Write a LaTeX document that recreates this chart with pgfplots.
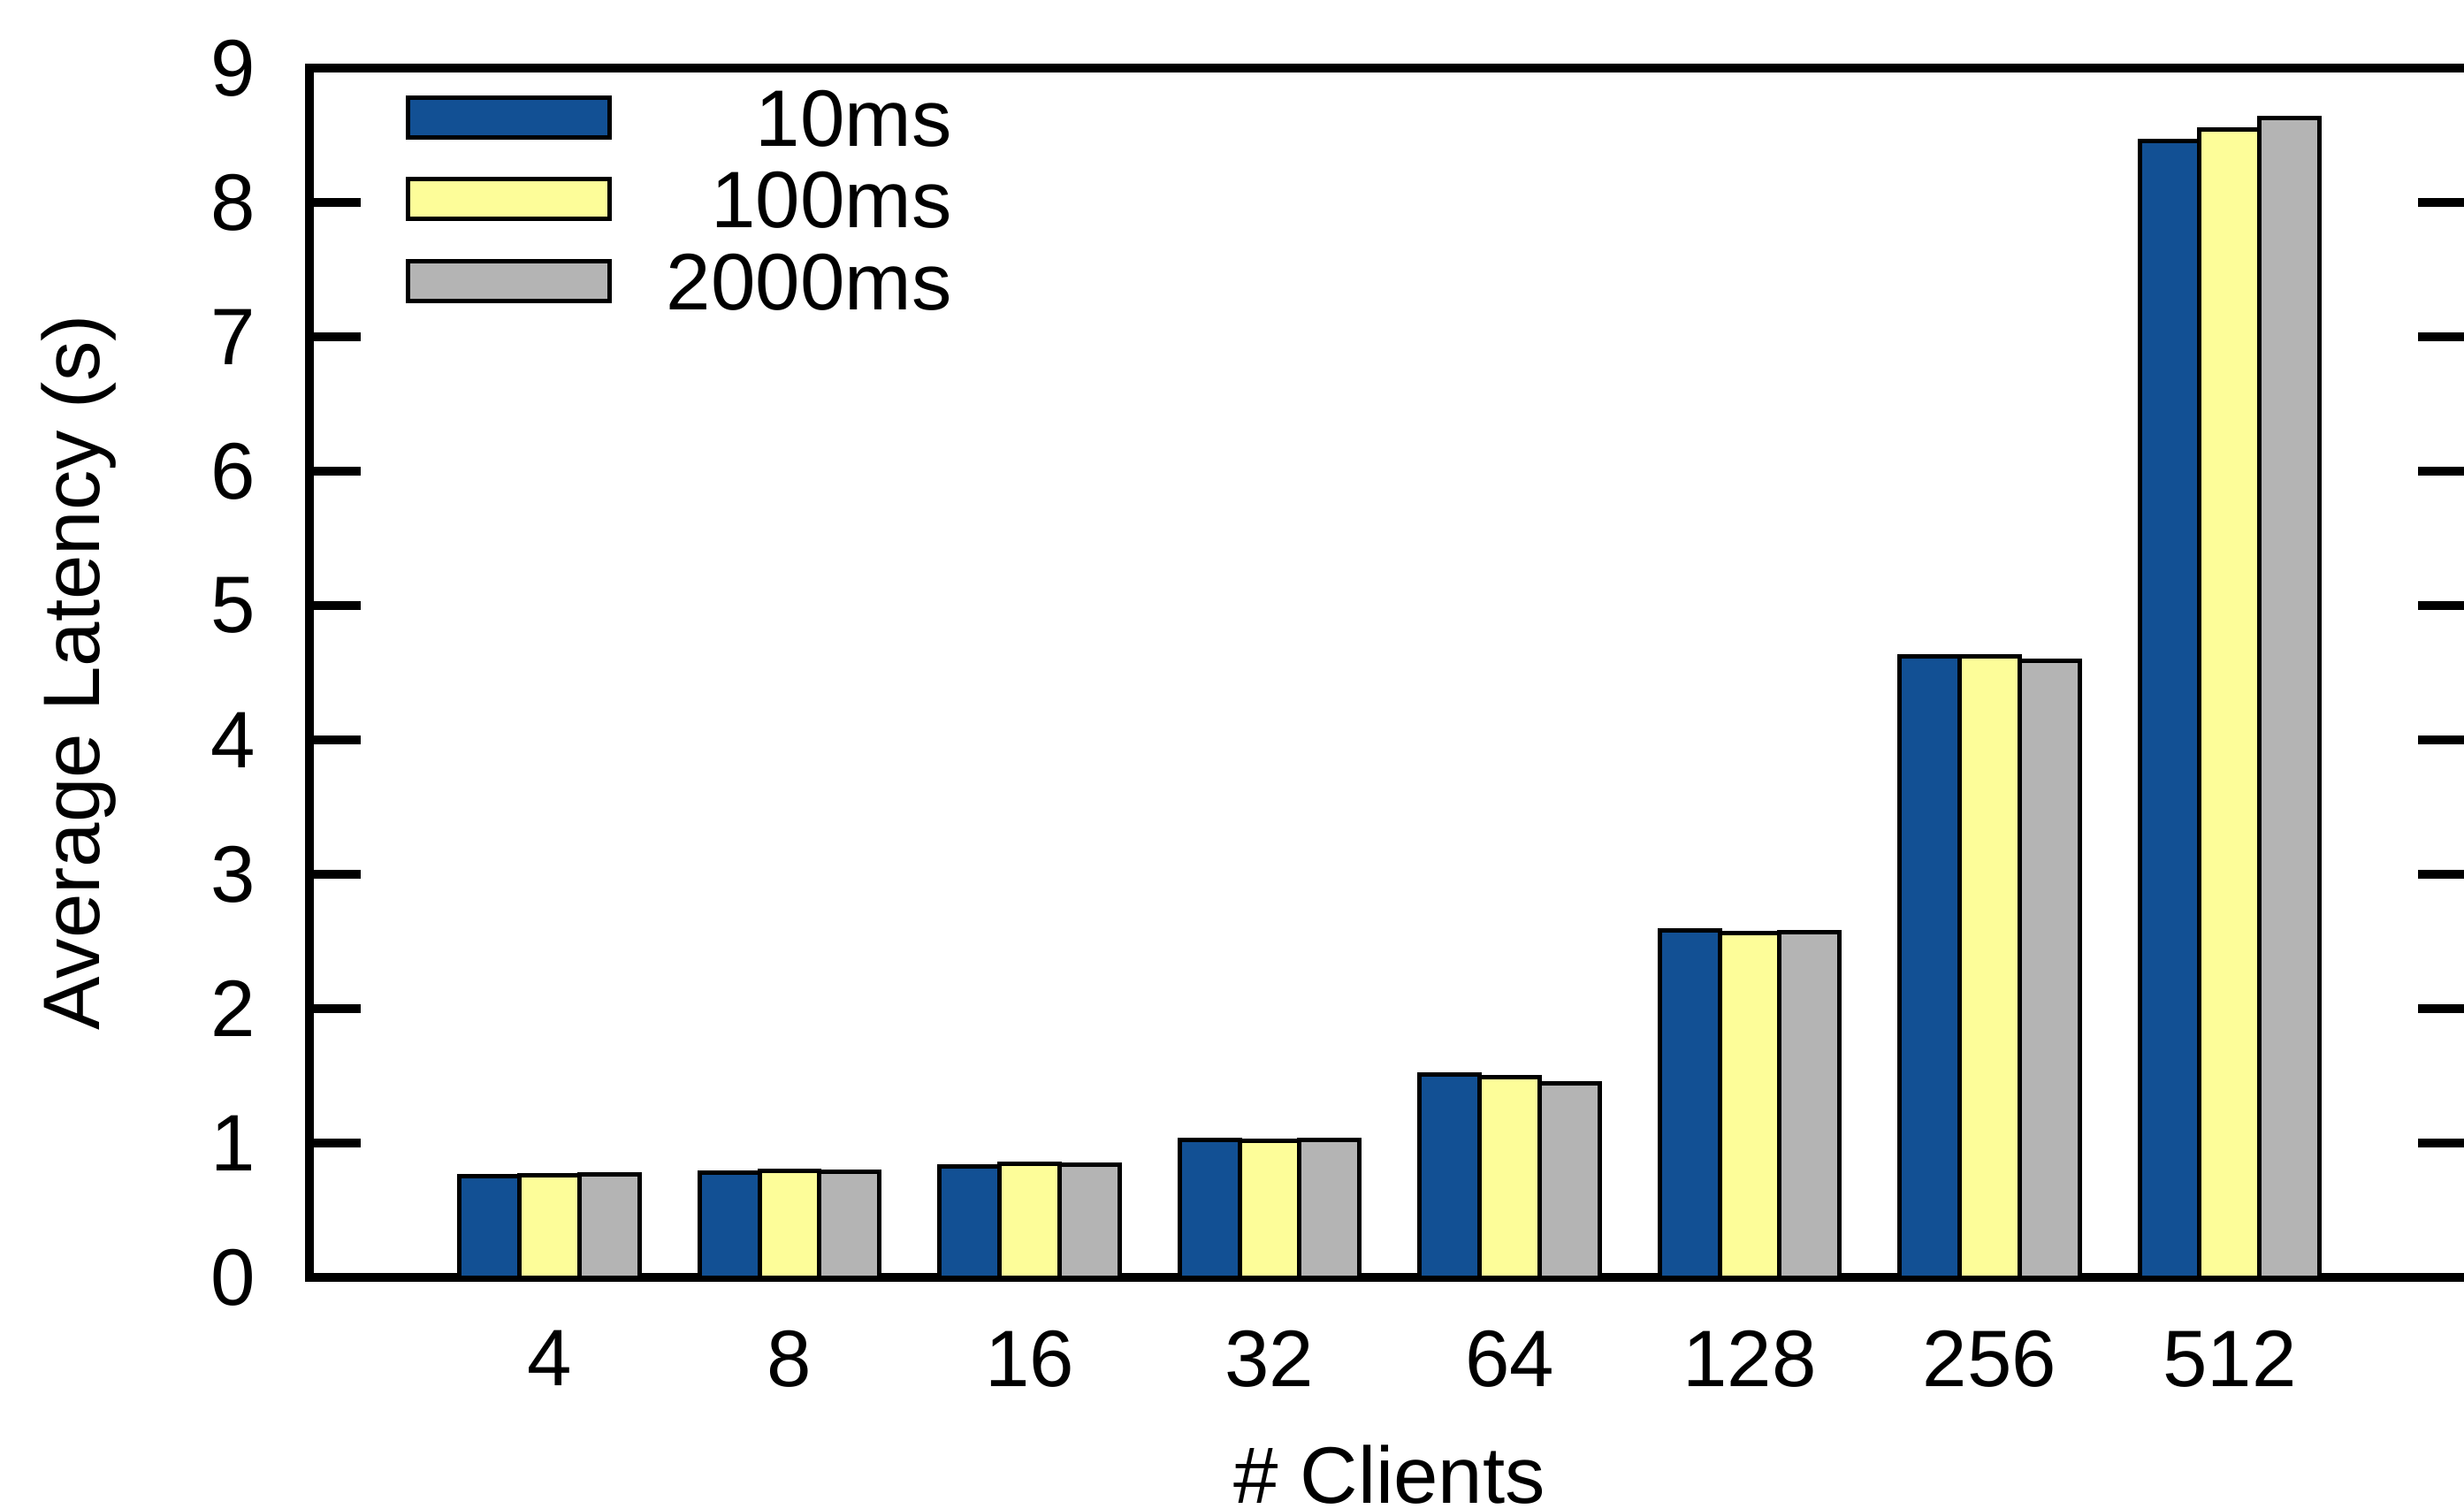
\documentclass[border=0pt]{standalone}
\usepackage{pgfplots}
\pgfplotsset{compat=1.18}
\usepackage{fontspec}
\setmainfont{Liberation Sans}
\definecolor{cblue}{RGB}{18,80,148}
\definecolor{cyellow}{RGB}{253,253,153}
\definecolor{cgray}{RGB}{180,180,180}
\begin{document}
\begin{tikzpicture}[font=\fontsize{9.1}{11}\selectfont]
\begin{scope}
\clip (-35bp,-26.2bp) rectangle (243.7bp,144.5bp);
\begin{axis}[
  at={(0,0)}, anchor=south west,
  scale only axis,
  width=244.35bp, height=136.8bp,
  xmin=-1, xmax=8, ymin=0, ymax=9,
  ybar=0pt, bar width=0.25,
  xtick={0,1,2,3,4,5,6,7},
  xticklabels={4,8,16,32,64,128,256,512},
  ytick={0,1,2,3,4,5,6,7,8,9},
  ytick pos=both,
  xtick style={draw=none},
  ytick style={line width=1bp, black},
  major tick length=5.8bp,
  tick align=inside,
  axis line style={line width=1.05bp},
  /pgf/number format/assume math mode=true,
  yticklabel style={inner sep=0pt, xshift=-5.9bp},
  xticklabel style={inner sep=0pt, yshift=-5.8bp},
  xlabel={\# Clients},
  ylabel={Average Latency (s)},
  xlabel style={at={(axis description cs:0.5,0)}, anchor=north, inner sep=0pt, yshift=-18.8bp},
  ylabel style={at={(axis description cs:0,0.5)}, anchor=base, inner sep=0pt, yshift=23.7bp},
  legend image code/.code={\draw[#1, line width=0.5bp] (0bp,-2.25bp) rectangle (22.8bp,2.25bp);},
  legend style={at={(axis description cs:0,1)}, anchor=north west,
    xshift=10.9bp, yshift=-2.3bp, draw=none, fill=none,
    inner sep=0pt, outer sep=0pt, row sep=2.75bp, column sep=0pt,
    nodes={inner sep=0pt, text height=6.5bp, text depth=0pt}},
  legend cell align=left,
]
\addplot[fill=cblue, draw=black, line width=0.5bp, bar shift=-0.25] coordinates {
 (0,0.755) (1,0.778) (2,0.824) (3,1.024) (4,1.511) (5,2.585) (6,4.625) (7,8.458)};
\addplot[fill=cyellow, draw=black, line width=0.5bp, bar shift=0] coordinates {
 (0,0.761) (1,0.793) (2,0.847) (3,1.015) (4,1.489) (5,2.56) (6,4.62) (7,8.545)};
\addplot[fill=cgray, draw=black, line width=0.5bp, bar shift=0.25] coordinates {
 (0,0.765) (1,0.786) (2,0.836) (3,1.021) (4,1.441) (5,2.57) (6,4.586) (7,8.626)};
\addlegendentry{\makebox[38.45bp][r]{10ms}}
\addlegendentry{\makebox[38.45bp][r]{100ms}}
\addlegendentry{\makebox[38.45bp][r]{2000ms}}
\end{axis}
\end{scope}
\pgfresetboundingbox
\useasboundingbox (-35bp,-26.2bp) rectangle (243.7bp,144.5bp);
\end{tikzpicture}
\end{document}
